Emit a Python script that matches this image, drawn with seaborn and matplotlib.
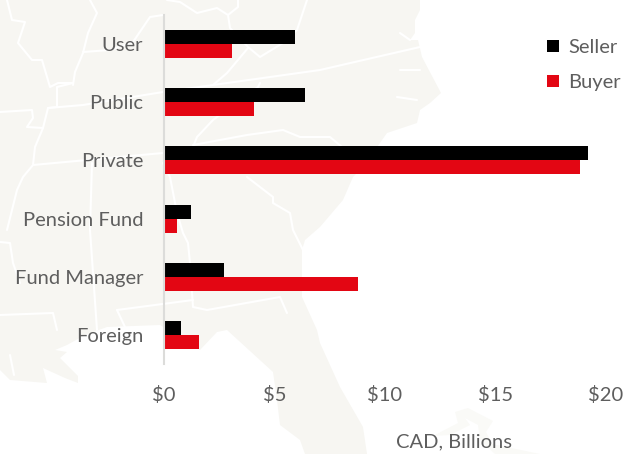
import matplotlib
matplotlib.use("Agg")
import matplotlib.pyplot as plt
import pandas as pd
import seaborn as sns
from matplotlib.patches import Polygon

categories = ["User", "Public", "Private", "Pension Fund", "Fund Manager", "Foreign"]
seller = [5.93, 6.40, 19.17, 1.20, 2.72, 0.77]
buyer = [3.08, 4.05, 18.83, 0.60, 8.79, 1.58]
tick_values = [0, 5, 10, 15, 20]
tick_labels = ["$0", "$5", "$10", "$15", "$20"]

TEXT = "#5e5e5e"
LAND = "#f7f6f2"

# background map outline, in picture pixels
land = [(0, 0), (420, 0), (420, 10), (415, 20), (415, 33), (410, 40), (418, 40), (422, 57),
        (441, 93), (430, 103), (420, 110), (417, 123), (387, 133), (363, 167), (353, 177),
        (343, 200), (320, 227), (305, 240), (302, 250), (302, 297), (317, 330), (320, 343),
        (340, 387), (363, 427), (367, 454), (305, 454), (300, 440), (280, 425), (277, 400),
        (273, 372), (227, 330), (217, 332), (200, 350), (160, 325), (107, 327), (85, 335),
        (67, 345), (55, 350), (67, 352), (60, 358), (78, 376), (78, 383), (65, 378), (43, 368),
        (47, 383), (10, 380), (0, 370)]
island = [(433, 436), (458, 423), (455, 412), (468, 408), (493, 421), (486, 432), (492, 444),
          (540, 454), (495, 454), (480, 440), (478, 425), (465, 418), (470, 425), (450, 435)]
borders = [
    [(7, 0), (12, 20), (25, 22), (18, 43), (32, 60), (42, 60), (50, 87), (58, 83), (73, 83), (57, 87), (57, 107), (48, 108)],
    [(48, 108), (83, 105), (163, 92), (213, 85), (320, 70), (420, 47)],
    [(90, 0), (97, 13), (88, 33), (83, 53), (75, 72), (73, 85)],
    [(83, 52), (110, 50), (133, 42), (150, 17), (163, 15)],
    [(167, 0), (180, 2), (197, 13), (217, 8), (228, 15), (238, 7), (238, 0)],
    [(228, 15), (230, 28), (248, 47), (260, 57), (283, 43), (297, 30), (307, 0)],
    [(248, 48), (227, 73), (213, 85)],
    [(260, 83), (258, 87), (213, 120), (197, 137), (193, 147)],
    [(193, 145), (247, 135), (283, 130), (300, 137), (330, 137), (342, 147)],
    [(247, 177), (273, 197), (273, 203), (290, 213), (293, 230), (303, 250)],
    [(163, 163), (170, 177), (177, 213), (183, 233), (188, 243), (190, 263), (193, 307), (207, 310), (280, 297), (287, 313)],
    [(117, 310), (193, 300)],
    [(117, 310), (125, 327)],
    [(90, 230), (97, 330)],
    [(0, 315), (53, 313), (57, 330)],
    [(0, 242), (10, 243), (13, 263), (20, 283)],
    [(33, 165), (163, 153)],
    [(33, 165), (23, 177), (17, 190), (7, 230)],
    [(0, 112), (32, 110), (33, 118), (27, 127), (43, 128), (35, 147), (33, 165)],
    [(48, 108), (43, 128)],
    [(92, 163), (90, 230)],
    [(400, 33), (410, 40)],
    [(400, 70), (420, 70)],
    [(397, 97), (417, 100)],
    [(10, 355), (14, 375)],
]

df = pd.DataFrame({
    "category": categories * 2,
    "value": seller + buyer,
    "side": ["Seller"] * 6 + ["Buyer"] * 6,
})

sns.set_theme(style="white")
plt.rcParams["font.family"] = ["Lato", "DejaVu Sans"]

W, H = 637, 454
fig = plt.figure(figsize=(W / 100, H / 100), dpi=100, facecolor="white")

bg = fig.add_axes([0, 0, 1, 1])
bg.set_xlim(0, W)
bg.set_ylim(H, 0)
bg.axis("off")
bg.add_patch(Polygon(land, closed=True, fc=LAND, ec="none"))
bg.add_patch(Polygon(island, closed=True, fc="#fafaf7", ec="none"))
for line in borders:
    bg.plot(*zip(*line), color="white", lw=1.5, solid_joinstyle="round")

ax = fig.add_axes([164 / W, 1 - 364 / H, 442 / W, 349 / H])
ax.patch.set_alpha(0)
sns.barplot(data=df, x="value", y="category", hue="side", order=categories,
            hue_order=["Seller", "Buyer"], palette={"Seller": "#000000", "Buyer": "#e30613"},
            width=0.48, gap=0, saturation=1, linewidth=0, ax=ax)
ax.set_xlim(0, 20)
ax.set_xticks(tick_values, tick_labels)
ax.set_xlabel("CAD, Billions", color=TEXT, fontsize=14.5, x=0.655)
ax.xaxis.labelpad = 21.5
ax.set_ylabel("")
ax.tick_params(axis="x", length=0, pad=15.5, labelsize=14.5, labelcolor=TEXT)
ax.tick_params(axis="y", length=0, pad=15, labelsize=14.5, labelcolor=TEXT)
for side in ["top", "right", "bottom"]:
    ax.spines[side].set_visible(False)
ax.spines["left"].set_color("#dcdcda")
ax.spines["left"].set_linewidth(1.5)

ax.legend(loc="upper left", bbox_to_anchor=(547 / W, 1 - 39 / H), bbox_transform=fig.transFigure,
          frameon=False, fontsize=14.5, labelcolor=TEXT, handlelength=0.6, handleheight=0.6,
          handletextpad=0.45, labelspacing=0.9, borderpad=0, borderaxespad=0)

fig.savefig("out.png", dpi=100)
